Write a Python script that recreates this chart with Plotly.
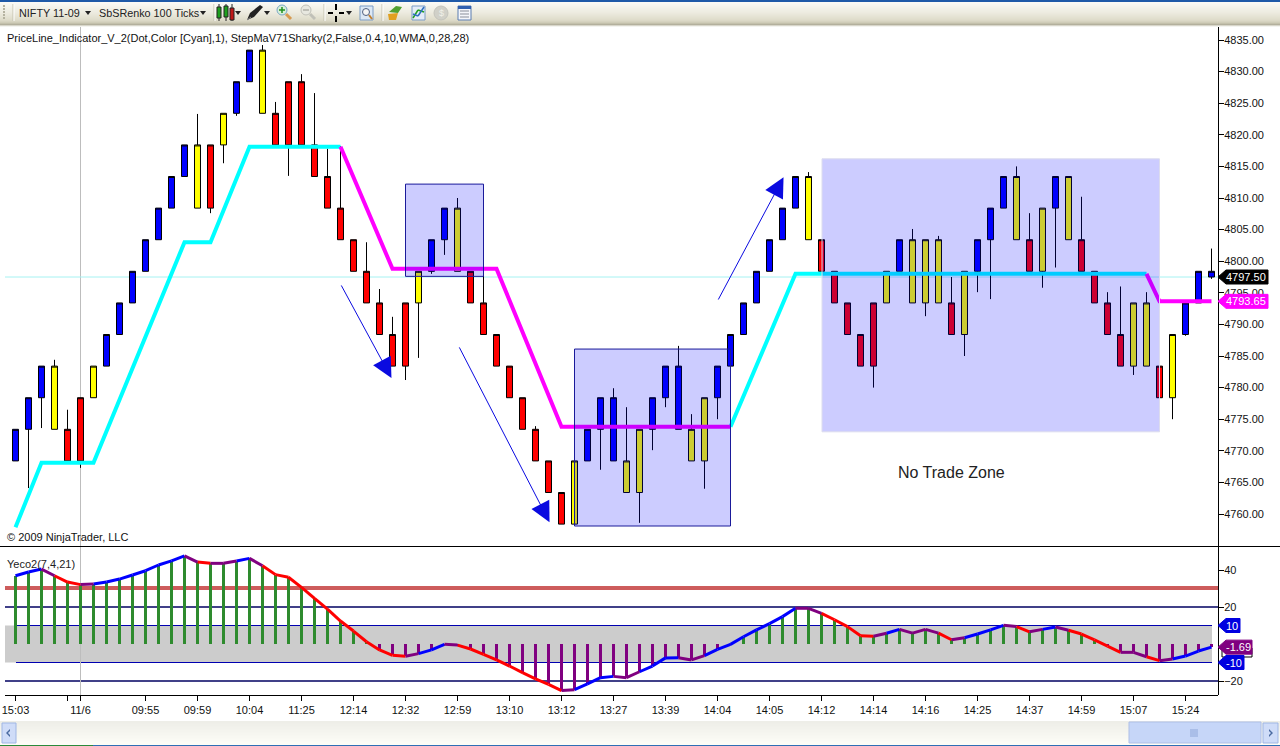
import plotly.graph_objects as go

# ---------- data ----------
bar_index = list(range(93))
bar_top = [4773.4,4778.4,4783.4,4783.4,4773.4,4778.4,4783.4,4788.4,4793.4,4798.4,4803.4,4808.4,4813.4,4818.4,4818.4,4818.4,4823.4,4828.4,4833.4,4833.4,
           4823.4,4828.4,4828.4,4818.4,4813.4,4808.4,4803.4,4798.4,4793.4,4788.4,4793.4,4798.4,4803.4,4808.4,4808.4,4798.4,4793.4,4788.4,4783.4,4778.4,
           4773.4,4768.4,4763.4,4768.4,4773.4,4778.4,4778.4,4768.4,4773.4,4778.4,4783.4,4783.4,4773.4,4778.4,4783.4,4788.4,4793.4,4798.4,4803.4,4808.4,
           4813.4,4813.4,4803.4,4798.4,4793.4,4788.4,4793.4,4798.4,4803.4,4803.4,4803.4,4803.4,4793.4,4798.4,4803.4,4808.4,4813.4,4813.4,4803.4,4808.4,
           4813.4,4813.4,4803.4,4798.4,4793.4,4788.4,4793.4,4793.4,4783.4,4788.4,4793.4,4798.4,4798.4]
bar_bottom = [4768.4,4773.4,4778.4,4773.4,4768.4,4768.4,4778.4,4783.4,4788.4,4793.4,4798.4,4803.4,4808.4,4813.4,4808.4,4808.4,4818.4,4823.4,4828.4,4823.4,
              4818.4,4818.4,4818.4,4813.4,4808.4,4803.4,4798.4,4793.4,4788.4,4783.4,4783.4,4793.4,4798.4,4803.4,4798.4,4793.4,4788.4,4783.4,4778.4,4773.4,
              4768.4,4763.4,4758.4,4758.4,4768.4,4773.4,4768.4,4763.4,4763.4,4773.4,4778.4,4773.4,4768.4,4768.4,4778.4,4783.4,4788.4,4793.4,4798.4,4803.4,
              4808.4,4803.4,4798.4,4793.4,4788.4,4783.4,4783.4,4793.4,4798.4,4793.4,4793.4,4793.4,4788.4,4788.4,4798.4,4803.4,4808.4,4803.4,4798.4,4798.4,
              4808.4,4803.4,4798.4,4793.4,4788.4,4783.4,4783.4,4783.4,4778.4,4778.4,4788.4,4793.4,4797.5]
bar_kind = list("BBBYRRYBBB" "BBBBYRYBBY" "RRRRRRRRRR" "RYBBYRRRRR" "RRRYBBBYYB"
                "BBYYBBBBBB" "BYRRRRRYBY" "YYRYBBBYRY" "BYRRRRYYRY" "BBB")
wick_high = {3:4784.4,4:4776.5,14:4823.3,19:4834.2,20:4825.2,22:4829.6,23:4826.6,24:4817.8,25:4818.2,27:4803.0,28:4795.6,29:4791.2,
             34:4810.0,36:4798.3,40:4773.9,46:4779.9,47:4776.9,51:4786.6,52:4775.8,61:4814.1,69:4805.1,71:4804.0,72:4797.5,77:4815.0,
             78:4807.6,82:4810.2,84:4795.1,85:4796.0,87:4795.1,92:4802.0}
wick_low = {1:4764.1,2:4773.6,5:4767.3,15:4807.6,16:4815.5,17:4823.0,21:4813.5,30:4781.2,31:4784.7,32:4798.0,33:4801.0,45:4767.0,48:4758.6,
            49:4770.1,50:4776.9,53:4764.0,54:4775.0,55:4782.5,66:4780.0,70:4791.3,73:4785.0,74:4795.1,75:4794.0,79:4795.8,80:4799.0,
            86:4782.0,89:4775.0,90:4788.2,92:4797.2}

step_up_segments = [([0,2,6,13,15,18,25],[4757.9,4768.1,4768.1,4803.0,4803.0,4818.1,4818.1]),
                    ([55,60,87],[4773.8,4798.0,4798.0])]
step_down_segments = [([25,29,37,42,55],[4818.1,4798.8,4798.8,4773.8,4773.8]),
                      ([87,88,92],[4798.0,4793.65,4793.65])]
last_price = 4797.50
last_step = 4793.65

zones = [(30,36,4797.6,4812.2,"#1a1a9a"),(43,55,4758.1,4786.1,"#1a1a9a"),(62.04,88,4773.0,4816.2,"#dcdcee")]
arrows = [(25,4796.4,28.92,4781.5),(34.08,4786.6,41.08,4758.7),(54,4793.7,59.08,4813.3)]

osc = [36.9,38.9,40.5,36.9,33.5,32.1,32.4,33.5,35.1,37.3,39.6,42.7,44.9,47.6,44.3,43.6,43.6,44.9,46.3,42.3,
       37.5,36.1,30.6,24.7,18.8,12.4,7.0,1.2,-3.2,-6.1,-6.6,-5.2,-3.2,-0.2,-0.6,-2.7,-5.6,-8.6,-11.9,-15.5,
       -18.9,-21.8,-25.2,-24.7,-21.6,-18.2,-17.5,-18.2,-15.0,-11.9,-7.5,-7.4,-8.6,-6.3,-2.9,-0.2,3.9,7.6,11.0,14.8,
       19.3,19.3,16.6,13.1,9.4,4.5,4.2,5.8,7.9,5.9,7.9,5.9,2.3,3.4,5.4,7.6,10.1,9.4,6.6,7.9,
       9.2,7.4,5.4,2.2,-1.1,-4.5,-4.5,-6.9,-9.0,-8.1,-6.5,-3.8,-1.69]
level_heavy = 30.3
levels_thin = [20,-20]
band = [-10,10]

tick_index = [0,4,5,10,14,18,22,26,30,34,38,42,46,50,54,58,62,66,70,74,78,82,86,90]
tick_label = ["15:03","","11/6","09:55","09:59","10:04","11:25","12:14","12:32","12:59","13:10","13:12","13:27","13:39",
              "14:04","14:05","14:12","14:14","14:16","14:25","14:37","14:59","15:07","15:24"]
price_ticks = [4760,4765,4770,4775,4780,4785,4790,4795,4800,4805,4810,4815,4820,4825,4830,4835]
osc_ticks = [-20,20,40]

# ---------- page geometry (pixels) ----------
W, H = 1280, 746
PL, PR, PT, PB = 0, 1218, 27, 695
FONT = "Liberation Sans"
def px(x): return (x-PL)/(PR-PL)
def py(y): return (PB-y)/(PB-PT)
def pidx(x): return (x-15.5)/13

shapes, notes = [], []
def rect(x0,y0,x1,y1,fill,line=None,lw=1,layer="above"):
    shapes.append(dict(type="rect",xref="paper",yref="paper",x0=px(x0),x1=px(x1),y0=py(y1),y1=py(y0),fillcolor=fill,
                       line=dict(color=line,width=lw) if line else dict(width=0),layer=layer))
def seg(x0,y0,x1,y1,color,lw=1,layer="above"):
    shapes.append(dict(type="line",xref="paper",yref="paper",x0=px(x0),x1=px(x1),y0=py(y0),y1=py(y1),
                       line=dict(color=color,width=lw),layer=layer))
def poly(pts,fill,line=None,lw=1):
    d="M "+" L ".join(f"{px(a):.5f} {py(b):.5f}" for a,b in pts)+" Z"
    shapes.append(dict(type="path",xref="paper",yref="paper",path=d,fillcolor=fill,
                       line=dict(color=line,width=lw) if line else dict(width=0),layer="above"))
def circ(cx,cy,r,fill,line):
    shapes.append(dict(type="circle",xref="paper",yref="paper",x0=px(cx-r),x1=px(cx+r),y0=py(cy+r),y1=py(cy-r),
                       fillcolor=fill,line=dict(color=line,width=1),layer="above"))
def label(x,y,text,size=11,color="black",anchor="left"):
    notes.append(dict(xref="paper",yref="paper",x=px(x),y=py(y),xshift=-2 if anchor=="left" else 0,text=text,showarrow=False,
                      xanchor=anchor,yanchor="middle",font=dict(family=FONT,size=size,color=color)))

# ---------- reference layers in the oscillator ----------
shapes.append(dict(type="rect",xref="paper",yref="y2",x0=px(5),x1=px(1212),y0=band[0],y1=band[1],fillcolor="#cccccc",line=dict(width=0),layer="below"))
shapes.append(dict(type="line",xref="paper",yref="y2",x0=px(5),x1=1,y0=level_heavy,y1=level_heavy,line=dict(color="#cd5c5c",width=4),layer="below"))
for v in levels_thin:
    shapes.append(dict(type="line",xref="paper",yref="y2",x0=px(5),x1=1,y0=v,y1=v,line=dict(color="#000060",width=1.3),layer="below"))
for v in band:
    shapes.append(dict(type="line",xref="paper",yref="y2",x0=px(16),x1=px(1212),y0=v,y1=v,line=dict(color="#0000b0",width=1),layer="below"))
seg(80.5,27,80.5,695,"#bdbdbd",1,"below")
shapes.append(dict(type="line",xref="paper",yref="y",x0=px(5),x1=1,y0=last_price,y1=last_price,line=dict(color="#a6f2f2",width=1),layer="below"))

# ---------- zones drawn over the marks ----------
for x0,x1,y0,y1,c in zones:
    shapes.append(dict(type="rect",xref="x",yref="y",x0=x0,x1=x1,y0=y0,y1=y1,fillcolor="rgba(0,0,255,0.2)",line=dict(color=c,width=1),layer="above"))

# ---------- frame ----------
seg(0,546.5,1280,546.5,"black",1)
seg(PR+.5,27,PR+.5,695,"black",1)
seg(5,695.5,PR,695.5,"black",1)

# ---------- price tags ----------
def tag(y,yref,width,fill,text,tcolor="white"):
    shapes.append(dict(type="path",xref="paper",yref=yref,xsizemode="pixel",xanchor=1,ysizemode="pixel",yanchor=y,
                       path=f"M 0 0 L 8 7 L {width} 7 L {width} -7 L 8 -7 Z",fillcolor=fill,line=dict(color=fill,width=1),layer="above"))
    notes.append(dict(xref="paper",yref=yref,x=1,y=y,xshift=6,xanchor="left",yanchor="middle",showarrow=False,text=text,
                      font=dict(family=FONT,size=11,color=tcolor)))
rect(1222,648,1252,657,"white","black",1)
tag(last_price,"y",50,"black",f"{last_price:.2f}")
tag(last_step,"y",50,"#ff00ff",f"{last_step:.2f}")
tag(band[1],"y2",22,"#0000e0","10")
tag(band[0],"y2",26,"#0000e0","-10")
tag(osc[-1],"y2",34,"#800080",f"{osc[-1]:.2f}")

# ---------- toolbar ----------
tb = ["#1f5aa8","#1f5aa8","#fbfaf5","#faf9f4","#f8f7f1","#f7f6ef","#f5f4ec","#f4f3ea","#f2f1e8","#f1f0e6","#efeee4","#eeede2",
      "#edebe0","#ebe9dd","#e9e7da","#e7e5d7","#e5e3d4","#e3e1d1","#e1dfce","#dfdccb","#dcd9c7","#d6d3c0","#cfccb8","#c3c0ab","#b3b09d","#d8d6ca","#f4f4f0"]
for i,c in enumerate(tb):
    rect(0,i,1280,i+1,c)
for x in (13,214,324,382):
    seg(x,4,x,21,"#c5c2b0",1); seg(x+1,4,x+1,21,"#ffffff",1)
for y in range(5,20,3):
    rect(3,y,5,y+2,"#b5b2a0")
label(19,13,"NIFTY 11-09",10.8,"#222222")
label(99,13,"SbSRenko 100 Ticks",10.8,"#222222")
def drop(x,y=13):
    poly([(x-3,y-2),(x+3,y-2),(x,y+2)],"#222222")
for x in (88,203,238,267,349):
    drop(x)
for x,c,t,b in ((219,"#1ea01e",7,18),(226,"#1ea01e",6,17),(232,"#c01818",8,20)):
    seg(x,4,x,21,"#222222",1); rect(x-2,t,x+2,b,c,"#222222",1)
poly([(247,20),(250,13),(260,5),(263,7),(254,17)],"#222222")
seg(247,20,251,17,"#888888",1)
circ(282,10,5,"#d8f0d8","#7aa6c8"); seg(286,14,291,19,"#d89a50",3); seg(279,10,285,10,"#209020",1.5); seg(282,7,282,13,"#209020",1.5)
circ(306,10,5,"#e8e8e0","#c0c0b8"); seg(310,14,315,19,"#c0c0b8",3); seg(303,10,309,10,"#b0b0a8",1.5)
seg(328,13,333,13,"black",2); seg(339,13,344,13,"black",2); seg(336,4,336,10,"black",2); seg(336,16,336,22,"black",2)
rect(360,6,373,20,"#dce8f5","#7a9cc6"); circ(366,12,3.5,"#f5f5f5","#506080"); seg(369,15,372,19,"#c08030",2)
poly([(389,12),(396,6),(402,7),(398,13)],"#50a030"); poly([(388,14),(398,13),(396,20),(389,20)],"#e0a020")
rect(412,6,425,20,"#e4ecf8","#7a9cc6"); seg(413,18,418,10,"#20a020",1.5); seg(418,10,424,12,"#20a020",1.5); seg(413,14,418,16,"#3070c0",1.5); seg(418,16,424,7,"#3070c0",1.5)
circ(441,13,7,"#d0d0c8","#c4c4bc"); label(441,13,"$",9,"#f0f0e8","center")
rect(458,6,471,20,"#f4f6fa","#5a7cb0"); rect(458,6,471,9,"#3060b0"); 
for y in (11,14,17):
    seg(460,y,469,y,"#8a8f9a",1)

# ---------- scrollbar ----------
for i in range(24):
    g = 238+int(i*16/24)
    rect(0,721+i,1280,722+i,f"rgb({g},{g},{max(g-6,0)})")
rect(0,745,93,746,"#2a8a3a"); rect(93,745,1280,746,"#2f6fb5")
rect(2,723,16,743,"#cfdcf8","#9fb6e4"); poly([(10,729),(6,733),(10,737),(10,735),(8,733),(10,731)],"#4a6aa0")
rect(1129,722,1261,743,"#c6d6f8","#aebfe6")
for x in (1191,1193,1195,1197):
    seg(x,729,x,737,"#8ea6d8",1)
rect(1263,723,1278,743,"#cfdcf8","#9fb6e4"); poly([(1269,729),(1273,733),(1269,737),(1269,735),(1271,733),(1269,731)],"#4a6aa0")

# ---------- texts in the chart ----------
label(7,38,"PriceLine_Indicator_V_2(Dot,Color [Cyan],1), StepMaV71Sharky(2,False,0.4,10,WMA,0,28,28)",11,"#111111")
label(7,537,"© 2009 NinjaTrader, LLC",11,"#111111")
label(7,564,"Yeco2(7,4,21)",11,"#222222")
notes.append(dict(xref="x",yref="y",x=72,y=4766.6,text="No Trade Zone",showarrow=False,font=dict(family=FONT,size=16,color="#222222")))
for x0,y0,x1,y1 in arrows:
    notes.append(dict(xref="x",yref="y",axref="x",ayref="y",x=x1,y=y1,ax=x0,ay=y0,text="",showarrow=True,arrowhead=2,
                      arrowsize=4,arrowwidth=1,arrowcolor="#0a0ae0"))

# ---------- traces ----------
fig = go.Figure()
kinds = {"B":"#0000ff","Y":"#ffff00","R":"#ff0000"}
for k,c in kinds.items():
    sel = [i for i in bar_index if bar_kind[i]==k]
    fig.add_trace(go.Candlestick(x=sel,
        open=[bar_bottom[i] for i in sel], close=[bar_top[i] for i in sel],
        high=[wick_high.get(i,bar_top[i]) for i in sel], low=[wick_low.get(i,bar_bottom[i]) for i in sel],
        increasing=dict(fillcolor=c,line=dict(color="black",width=1)),
        decreasing=dict(fillcolor=c,line=dict(color="black",width=1)),
        whiskerwidth=0,showlegend=False,xaxis="x",yaxis="y",hoverinfo="skip"))
for xs,ys in step_up_segments:
    fig.add_trace(go.Scatter(x=xs,y=ys,mode="lines",line=dict(color="#00ffff",width=4),showlegend=False,xaxis="x",yaxis="y"))
for xs,ys in step_down_segments:
    fig.add_trace(go.Scatter(x=xs,y=ys,mode="lines",line=dict(color="#ff00ff",width=4),showlegend=False,xaxis="x",yaxis="y"))

fig.add_trace(go.Bar(x=bar_index,y=osc,width=0.23,marker=dict(color=["#2e8b2e" if v>=0 else "#800080" for v in osc],line=dict(width=0)),
                     showlegend=False,xaxis="x",yaxis="y2"))
buckets = {"#0000ff":([],[]),"#ff0000":([],[]),"#800080":([],[])}
for i in range(len(osc)-1):
    d = osc[i+1]-osc[i]
    p = osc[i]-osc[i-1] if i else d
    if d>0 and p>0: col="#0000ff"
    elif d<0 and p<0: col="#ff0000"
    else: col="#800080"
    bx,by = buckets[col]
    bx += [i,i+1,None]; by += [osc[i],osc[i+1],None]
for col,(bx,by) in buckets.items():
    fig.add_trace(go.Scatter(x=bx,y=by,mode="lines",line=dict(color=col,width=3),showlegend=False,xaxis="x",yaxis="y2"))

h = PB-PT
fig.update_layout(
    width=W,height=H,margin=dict(l=PL,r=W-PR,t=PT,b=H-PB,pad=0),paper_bgcolor="white",plot_bgcolor="white",
    font=dict(family=FONT,size=11,color="black"),boxgap=0.54,boxgroupgap=0,bargap=0,barmode="overlay",showlegend=False,
    xaxis=dict(range=[pidx(0),pidx(PR)],domain=[0,1],anchor="y2",tickmode="array",tickvals=tick_index,ticktext=tick_label,
               ticks="outside",ticklen=5,tickcolor="black",showgrid=False,zeroline=False,showline=False,rangeslider=dict(visible=False),
               tickangle=0,tickfont=dict(family=FONT,size=11,color="#111111")),
    yaxis=dict(domain=[(PB-546)/h,1],range=[4835-(546-40)/6.32,4835+(40-27)/6.32],side="right",anchor="x",tickmode="array",
               tickvals=price_ticks,tickformat=".2f",ticks="outside",ticklen=5,tickcolor="black",showgrid=False,zeroline=False,showline=False,
               ticklabelstandoff=-2,tickfont=dict(family=FONT,size=11,color="#111111")),
    yaxis2=dict(domain=[0,(PB-547)/h],range=[(644-695)/1.85,(644-547)/1.85],side="right",anchor="x",tickmode="array",
                tickvals=osc_ticks,ticks="outside",ticklen=5,tickcolor="black",showgrid=False,zeroline=False,showline=False,
                ticklabelstandoff=-2,tickfont=dict(family=FONT,size=11,color="#111111")),
    shapes=shapes,annotations=notes)

fig.write_html("out.html",config=dict(displayModeBar=False),
               post_script="document.body.style.margin='0';document.documentElement.style.overflow='hidden';")
